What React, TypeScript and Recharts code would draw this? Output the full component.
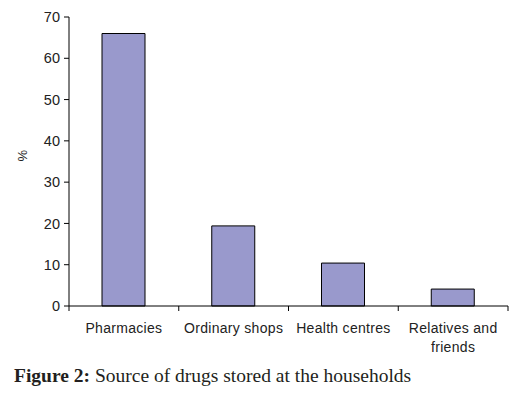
import { BarChart, Bar, XAxis, YAxis, Text } from 'recharts';

const categories = ['Pharmacies', 'Ordinary shops', 'Health centres', 'Relatives and friends'];
const percentages = [66, 19.4, 10.4, 4.1];
const yTicks = [0, 10, 20, 30, 40, 50, 60, 70];

const chartData = categories.map((name, i) => ({ name, value: percentages[i] }));

const TICK_SIZE = 5;
const TICK_MARGIN = 12;

function CategoryTick(props: any) {
  const { x, y, payload, index, visibleTicksCount } = props;
  const half = payload?.offset ?? 55;
  const axisY = y - TICK_SIZE - TICK_MARGIN;
  const last = index === visibleTicksCount - 1;
  return (
    <g>
      <line x1={x - half} x2={x - half} y1={axisY} y2={axisY + TICK_SIZE} stroke="#000" />
      {last && <line x1={x + half} x2={x + half} y1={axisY} y2={axisY + TICK_SIZE} stroke="#000" />}
      <Text
        x={x}
        y={y}
        width={half * 2}
        textAnchor="middle"
        verticalAnchor="start"
        fontSize={14}
        letterSpacing={0.3}
        fill="#222"
        fontFamily="'Liberation Sans', Arial, sans-serif"
        lineHeight={19}
      >
        {payload.value}
      </Text>
    </g>
  );
}

export default function App() {
  return (
    <div style={{ position: 'absolute', left: 0, top: 0, width: 531, height: 395, background: '#fff' }}>
      <BarChart
        width={531}
        height={360}
        data={chartData}
        margin={{ top: 17, right: 23, left: 19, bottom: 0 }}
        barCategoryGap="30%"
      >
        <XAxis
          dataKey="name"
          height={54}
          stroke="#000"
          tickLine={false}
          tickSize={TICK_SIZE}
          tickMargin={TICK_MARGIN}
          tick={<CategoryTick />}
          interval={0}
        />
        <YAxis
          width={50}
          domain={[0, 70]}
          ticks={yTicks}
          stroke="#000"
          tickSize={5}
          tickMargin={4}
          tick={{ fontSize: 14.5, fill: '#222', fontFamily: "'Liberation Sans', Arial, sans-serif" }}
          label={{
            value: '%',
            angle: -90,
            position: 'insideLeft',
            offset: 3,
            fontSize: 13,
            fill: '#222',
            fontFamily: "'Liberation Sans', Arial, sans-serif",
          }}
        />
        <Bar dataKey="value" fill="#9999CC" stroke="#000" strokeWidth={1} barSize={43} isAnimationActive={false} />
      </BarChart>
      <div
        style={{
          position: 'absolute',
          left: 14,
          top: 365,
          fontFamily: "'Liberation Serif', 'Times New Roman', serif",
          fontSize: 19.5,
          color: '#231f20',
          whiteSpace: 'nowrap',
        }}
      >
        <span style={{ fontWeight: 600 }}>Figure 2:</span> Source of drugs stored at the households
      </div>
    </div>
  );
}
